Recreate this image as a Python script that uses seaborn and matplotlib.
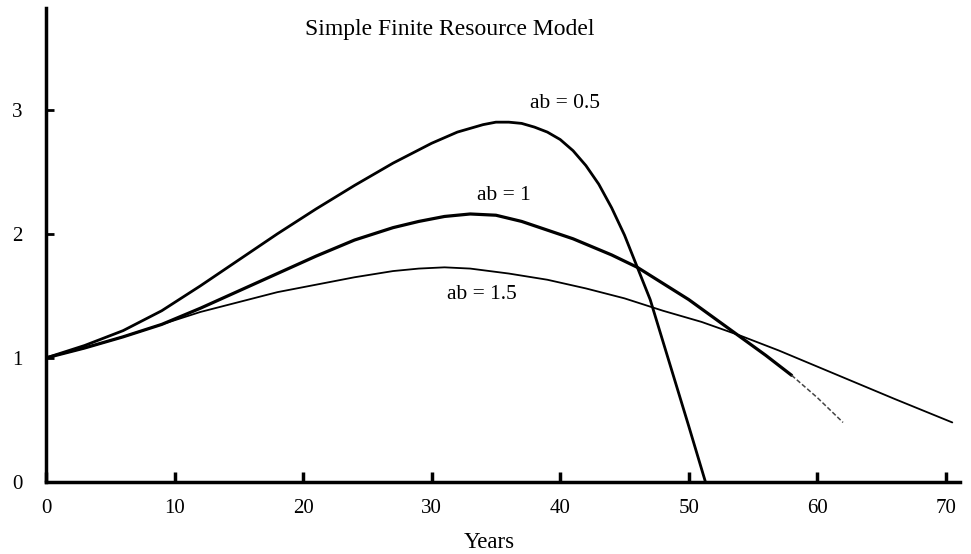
import numpy as np
import pandas as pd
import matplotlib
matplotlib.use("Agg")
import matplotlib.pyplot as plt
import seaborn as sns

# values
years_05 = [0, 3, 6, 9, 12, 15, 18, 21, 24, 27, 30, 32, 34, 35, 36, 37, 38, 39, 40, 41, 42, 43, 44, 45,
            46, 47, 48, 49, 50, 51.3]
ab_05 = [1.00, 1.10, 1.22, 1.38, 1.58, 1.79, 2.00, 2.20, 2.39, 2.57, 2.73, 2.82, 2.88, 2.90, 2.90, 2.89,
         2.86, 2.82, 2.76, 2.67, 2.55, 2.40, 2.21, 1.99, 1.73, 1.47, 1.13, 0.79, 0.45, 0.0]

years_1 = [0, 3, 6, 9, 12, 15, 18, 21, 24, 27, 29, 31, 33, 35, 37, 39, 41, 44, 46, 48, 50, 52, 54, 56, 58]
ab_1 = [1.00, 1.08, 1.17, 1.27, 1.40, 1.54, 1.68, 1.82, 1.95, 2.05, 2.10, 2.14, 2.16, 2.15, 2.10, 2.03,
        1.96, 1.83, 1.73, 1.60, 1.47, 1.32, 1.17, 1.02, 0.86]
years_1_tail = [58, 60, 62]
ab_1_tail = [0.86, 0.68, 0.48]

years_15 = [0, 3, 6, 9, 12, 15, 18, 21, 24, 27, 29, 31, 33, 36, 39, 42, 45, 48, 51, 54, 57, 60, 63, 66, 70.5]
ab_15 = [1.00, 1.08, 1.17, 1.27, 1.37, 1.45, 1.53, 1.59, 1.65, 1.70, 1.72, 1.73, 1.72, 1.68, 1.63, 1.56,
         1.48, 1.38, 1.29, 1.18, 1.06, 0.93, 0.80, 0.67, 0.48]

x_ticks = [0, 10, 20, 30, 40, 50, 60, 70]
y_ticks = [0, 1, 2, 3]

sns.set_theme(style="white")
plt.rcParams["font.family"] = ["Liberation Serif", "DejaVu Serif"]
plt.rcParams["text.color"] = "black"

fig = plt.figure(figsize=(9.71, 5.54), dpi=100)
ax = fig.add_axes([46 / 971, 1 - 482 / 554, 914 / 971, 474 / 554])

sns.lineplot(x=years_05, y=ab_05, ax=ax, color="black", linewidth=2.0, sort=False, estimator=None)
sns.lineplot(x=years_1, y=ab_1, ax=ax, color="black", linewidth=2.3, sort=False, estimator=None)
sns.lineplot(x=years_1_tail, y=ab_1_tail, ax=ax, color="#444444", linewidth=1.1, linestyle=(0, (3, 1.5)),
             sort=False, estimator=None)
sns.lineplot(x=years_15, y=ab_15, ax=ax, color="black", linewidth=1.3, sort=False, estimator=None)

ax.set_xlim(0, 71.1)
ax.set_ylim(0, 3.82)
ax.set_xticks(x_ticks)
ax.set_yticks(y_ticks)
ax.tick_params(axis="x", direction="in", length=7, width=2.5, pad=12, labelsize=15, colors="black")
ax.tick_params(axis="y", direction="in", length=6, width=2, pad=17, labelsize=15, colors="black")
ax.tick_params(bottom=True, left=True)
sns.despine(ax=ax)
for side in ["left", "bottom"]:
    ax.spines[side].set_color("black")
    ax.spines[side].set_linewidth(2.5)

ax.text(40.4, 3.05, "ab = 0.5", ha="center", va="center", fontsize=15.5)
ax.text(35.6, 2.31, "ab = 1", ha="center", va="center", fontsize=15.5)
ax.text(33.9, 1.51, "ab = 1.5", ha="center", va="center", fontsize=15.5)

fig.text(305 / 971, 1 - 30 / 554, "Simple Finite Resource Model", ha="left", va="center", fontsize=17)
fig.text(489 / 971, 1 - 542 / 554, "Years", ha="center", va="center", fontsize=16.5)

fig.savefig("out.png", dpi=100)
